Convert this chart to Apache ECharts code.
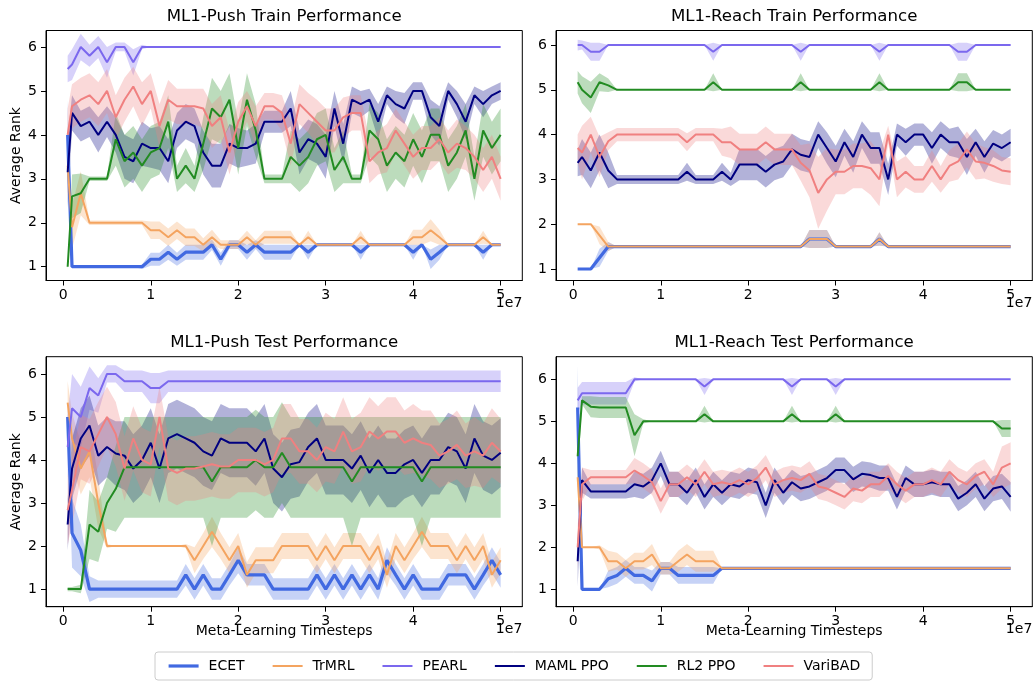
<!DOCTYPE html>
<html><head><meta charset="utf-8">
<script src="https://cdn.jsdelivr.net/npm/echarts@6/dist/echarts.min.js"></script>
<style>html,body{margin:0;padding:0;background:#fff}#c{width:1034px;height:683px}</style>
</head><body><div id="c"></div>
<script>
// ---------------- DATA ----------------
// meta-learning timesteps, in units of 1e7
const steps = [0.05,0.1,0.2,0.3,0.4,0.5,0.6,0.7,0.8,0.9, 1.0,1.1,1.2,1.3,1.4,1.5,1.6,1.7,1.8,1.9, 2.0,2.1,2.2,2.3,2.4,2.5,2.6,2.7,2.8,2.9, 3.0,3.1,3.2,3.3,3.4,3.5,3.6,3.7,3.8,3.9, 4.0,4.1,4.2,4.3,4.4,4.5,4.6,4.7,4.8,4.9, 5.0];
const xTicks = [0,1,2,3,4,5];
const yTicks = [1,2,3,4,5,6];
const methods = ['ECET','TrMRL','PEARL','MAML PPO','RL2 PPO','VariBAD'];
const panelTitles = ['ML1-Push Train Performance','ML1-Reach Train Performance','ML1-Push Test Performance','ML1-Reach Test Performance'];

// ML1-Push Train
const pushTrainEcet = [4.0,1,1,1,1,1,1,1,1,1, 1.17,1.17,1.33,1.17,1.33,1.33,1.33,1.5,1.17,1.5, 1.5,1.33,1.5,1.33,1.33,1.33,1.33,1.5,1.33,1.5, 1.5,1.5,1.5,1.5,1.33,1.5,1.5,1.5,1.5,1.5, 1.33,1.5,1.17,1.33,1.5,1.5,1.5,1.5,1.33,1.5, 1.5];
const pushTrainEcetSd = [0.8,0,0,0,0,0,0,0,0,0.05, 0.15,0.15,0.17,0.15,0.17,0.17,0.17,0.12,0.15,0.1, 0.1,0.17,0.1,0.17,0.17,0.17,0.17,0,0.17,0, 0,0,0,0,0.17,0,0,0,0,0, 0.17,0,0.22,0.17,0,0,0,0,0.17,0, 0];
const pushTrainTrmrl = [3.3,1.9,2.67,2,2,2,2,2,2,2, 1.83,1.83,1.67,1.83,1.67,1.67,1.5,1.67,1.5,1.5, 1.5,1.67,1.5,1.67,1.67,1.67,1.67,1.5,1.67,1.5, 1.5,1.5,1.5,1.5,1.67,1.5,1.5,1.5,1.5,1.5, 1.67,1.67,1.83,1.67,1.5,1.5,1.5,1.5,1.67,1.5, 1.5];
const pushTrainTrmrlSd = [0.6,0.5,0.5,0.05,0.05,0.05,0.05,0.05,0.05,0.05, 0.2,0.2,0.2,0.2,0.2,0.2,0.15,0.17,0.1,0.1, 0.1,0.15,0.1,0.15,0.15,0.15,0.15,0,0.15,0, 0,0,0,0,0.15,0,0,0,0,0, 0.17,0.17,0.25,0.17,0,0,0,0,0.15,0, 0];
const pushTrainPearl = [5.5,5.6,6,5.8,6,5.65,6,6,5.65,6, 6,6,6,6,6,6,6,6,6,6, 6,6,6,6,6,6,6,6,6,6, 6,6,6,6,6,6,6,6,6,6, 6,6,6,6,6,6,6,6,6,6, 6];
const pushTrainPearlSd = [0.3,0.35,0.3,0.25,0.25,0.35,0.1,0.1,0.3,0.05, 0,0,0,0,0,0,0,0,0,0, 0,0,0,0,0,0,0,0,0,0, 0,0,0,0,0,0,0,0,0,0, 0,0,0,0,0,0,0,0,0,0, 0];
const pushTrainMaml = [3.15,4.5,4.2,4.3,4.0,4.3,4.0,3.5,3.4,3.8, 3.7,3.7,3.4,4.1,4.3,4.2,3.6,3.3,3.3,3.8, 3.7,3.7,3.8,4.3,4.3,4.3,4.6,3.6,3.9,3.8, 3.5,4.6,3.8,4.8,4.7,4.8,4.3,4.9,4.7,4.6, 5.0,5.0,4.4,4.2,5.0,4.7,4.3,4.9,4.7,4.9, 5.0];
const pushTrainMamlSd = [0.8,0.4,0.35,0.35,0.4,0.35,0.4,0.5,0.5,0.5, 0.45,0.5,0.5,0.4,0.4,0.4,0.5,0.5,0.5,0.45, 0.45,0.4,0.45,0.25,0.25,0.25,0.4,0.5,0.45,0.45, 0.5,0.4,0.45,0.3,0.3,0.25,0.4,0.2,0.3,0.35, 0.2,0.2,0.4,0.45,0.2,0.3,0.4,0.2,0.3,0.2, 0.2];
const pushTrainRl2 = [1.0,2.6,2.67,3.0,3.0,3.0,3.9,3.4,3.6,3.3, 3.6,3.7,4.3,3.0,3.3,3.0,3.8,4.6,4.4,4.8, 3.7,4.8,4.1,3.0,3.0,3.0,3.5,3.3,3.5,3.9, 4.0,3.2,3.5,3.0,3.0,4.1,3.9,3.3,3.6,3.4, 3.9,3.5,4.0,4.0,3.3,3.6,4.1,3.0,4.1,3.7, 4.0];
const pushTrainRl2Sd = [0.05,0.5,0.45,0.05,0.05,0.05,0.6,0.6,0.6,0.6, 0.6,0.6,0.6,0.3,0.4,0.3,0.6,0.7,0.6,0.6, 0.6,0.6,0.6,0.1,0.1,0.1,0.6,0.6,0.6,0.6, 0.6,0.5,0.6,0.1,0.1,0.6,0.6,0.6,0.6,0.6, 0.6,0.6,0.6,0.6,0.6,0.6,0.6,0.5,0.6,0.6, 0.6];
const pushTrainVaribad = [4.0,4.65,4.8,4.9,4.7,5.0,4.4,4.8,5.1,4.7, 5.0,4.2,4.8,4.65,4.65,4.65,4.6,4.2,4.4,3.6, 4.3,4.65,4.2,4.65,4.65,4.5,3.8,4.7,4.5,4.3, 4.1,4.1,4.4,4.5,4.5,3.4,3.6,3.7,4.1,3.8, 3.5,3.7,3.7,3.9,3.6,3.8,3.7,3.5,3.2,3.5, 3.0];
const pushTrainVaribadSd = [0.6,0.5,0.5,0.5,0.5,0.5,0.5,0.5,0.45,0.5, 0.4,0.5,0.45,0.4,0.4,0.4,0.45,0.5,0.5,0.5, 0.45,0.35,0.45,0.3,0.3,0.4,0.5,0.45,0.45,0.5, 0.5,0.5,0.45,0.4,0.4,0.5,0.5,0.55,0.5,0.5, 0.5,0.5,0.5,0.5,0.5,0.55,0.5,0.5,0.5,0.5, 0.5];

// ML1-Reach Train
const reachTrainEcet = [1,1,1,1.25,1.5,1.5,1.5,1.5,1.5,1.5, 1.5,1.5,1.5,1.5,1.5,1.5,1.5,1.5,1.5,1.5, 1.5,1.5,1.5,1.5,1.5,1.5,1.5,1.67,1.67,1.67, 1.5,1.5,1.5,1.5,1.5,1.67,1.5,1.5,1.5,1.5, 1.5,1.5,1.5,1.5,1.5,1.5,1.5,1.5,1.5,1.5, 1.5];
const reachTrainEcetSd = [0,0,0,0.2,0.1,0,0,0,0,0, 0,0,0,0,0,0,0,0,0,0, 0,0,0,0,0,0,0,0.2,0.2,0.2, 0,0,0,0,0,0.15,0,0,0,0, 0,0,0,0,0,0,0,0,0,0, 0];
const reachTrainTrmrl = [2,2,2,1.75,1.5,1.5,1.5,1.5,1.5,1.5, 1.5,1.5,1.5,1.5,1.5,1.5,1.5,1.5,1.5,1.5, 1.5,1.5,1.5,1.5,1.5,1.5,1.5,1.67,1.67,1.67, 1.5,1.5,1.5,1.5,1.5,1.67,1.5,1.5,1.5,1.5, 1.5,1.5,1.5,1.5,1.5,1.5,1.5,1.5,1.5,1.5, 1.5];
const reachTrainTrmrlSd = [0,0,0,0.2,0.1,0,0,0,0,0, 0,0,0,0,0,0,0,0,0,0, 0,0,0,0,0,0,0,0.2,0.2,0.2, 0,0,0,0,0,0.15,0,0,0,0, 0,0,0,0,0,0,0,0,0,0, 0];
const reachTrainPearl = [6,6,5.85,5.85,6,6,6,6,6,6, 6,6,6,6,6,6,5.85,6,6,6, 6,6,6,6,6,6,5.85,6,6,6, 6,6,6,6,6,5.85,6,6,6,6, 6,6,6,6,5.85,5.85,6,6,6,6, 6];
const reachTrainPearlSd = [0.12,0.1,0.2,0.2,0,0,0,0,0,0, 0,0,0,0,0,0,0.2,0,0,0, 0,0,0,0,0,0,0.2,0,0,0, 0,0,0,0,0,0.2,0,0,0,0, 0,0,0,0,0.2,0.2,0,0,0,0, 0];
const reachTrainMaml = [3.37,3.5,3.2,3.6,3.2,3.0,3.0,3.0,3.0,3.0, 3.0,3.0,3.0,3.17,3.0,3.0,3.0,3.17,3.0,3.33, 3.33,3.33,3.17,3.33,3.4,3.67,3.55,3.5,4.0,3.7, 3.4,3.83,3.5,4.0,3.7,3.7,3.0,4.0,3.83,4.0, 4.0,3.7,4.0,3.83,3.83,3.5,3.83,3.5,3.8,3.7, 3.83];
const reachTrainMamlSd = [0.3,0.4,0.4,0.4,0.4,0.1,0.1,0.1,0.1,0.1, 0.1,0.1,0.1,0.2,0.1,0.1,0.1,0.2,0.15,0.35, 0.35,0.35,0.35,0.35,0.35,0.35,0.35,0.35,0.3,0.35, 0.35,0.3,0.35,0.3,0.35,0.35,0.35,0.25,0.3,0.25, 0.25,0.35,0.3,0.3,0.35,0.4,0.3,0.35,0.3,0.3, 0.3];
const reachTrainRl2 = [5.17,5.0,4.83,5.17,5.1,5,5,5,5,5, 5,5,5,5,5,5,5.17,5,5,5, 5,5,5,5,5,5,5.17,5,5,5, 5,5,5,5,5,5.17,5,5,5,5, 5,5,5,5,5.17,5.17,5,5,5,5, 5];
const reachTrainRl2Sd = [0.25,0.3,0.35,0.2,0.15,0,0,0,0,0, 0,0,0,0,0,0,0.2,0,0,0, 0,0,0,0,0,0,0.2,0,0,0, 0,0,0,0,0,0.2,0,0,0,0, 0,0,0,0,0.2,0.2,0,0,0,0, 0];
const reachTrainVaribad = [3.7,3.6,4.0,3.5,3.85,4.0,4.0,4.0,4.0,4.0, 4.0,4.0,4.0,3.83,4.0,4.0,4.0,3.83,3.83,3.67, 3.67,3.67,3.83,3.67,3.67,3.67,3.37,3.2,2.7,3.0, 3.17,3.17,3.3,3.3,3.25,3.0,4.0,3.0,3.17,3.0, 3.0,3.3,3.0,3.3,3.4,3.67,3.4,3.37,3.3,3.2, 3.17];
const reachTrainVaribadSd = [0.3,0.6,0.4,0.45,0.2,0.15,0.15,0.15,0.15,0.15, 0.15,0.15,0.15,0.2,0.15,0.15,0.15,0.3,0.35,0.35, 0.35,0.35,0.35,0.35,0.35,0.35,0.4,0.6,0.8,0.7, 0.5,0.5,0.5,0.5,0.6,0.6,0.2,0.4,0.35,0.3, 0.3,0.35,0.3,0.35,0.4,0.4,0.4,0.35,0.35,0.3, 0.3];

// ML1-Push Test
const pushTestEcet = [5.0,2.3,1.9,1,1,1,1,1,1,1, 1,1,1,1,1.33,1,1.33,1,1,1.33, 1.67,1.33,1.33,1.33,1,1,1,1,1,1.33, 1,1.33,1,1.33,1,1.33,1,1.67,1.33,1, 1.33,1,1,1,1.33,1.33,1.33,1,1.33,1.67, 1.33];
const pushTestEcetSd = [0.3,0.8,0.6,0.3,0.2,0.2,0.2,0.2,0.2,0.2, 0.2,0.2,0.2,0.2,0.25,0.25,0.25,0.25,0.25,0.25, 0.3,0.25,0.25,0.25,0.25,0.25,0.25,0.25,0.25,0.25, 0.25,0.25,0.25,0.25,0.25,0.25,0.25,0.3,0.25,0.25, 0.25,0.25,0.25,0.25,0.25,0.25,0.25,0.25,0.25,0.3, 0.3];
const pushTestTrmrl = [5.33,4.5,3.8,4.2,3.0,2,2,2,2,2, 2,2,2,2,2,1.67,2,2.33,2,1.67, 2,1.33,1.67,1.67,1.67,2,2,2,2,1.67, 2,1.67,2,2,2,1.67,2,1.33,2,1.67, 2,2.33,2,2,2,1.67,2,1.67,2,1.33, 1.67];
const pushTestTrmrlSd = [0.5,0.6,0.6,0.6,0.6,0.05,0,0,0,0, 0,0,0,0,0.05,0.3,0.3,0.35,0.3,0.3, 0.3,0.3,0.3,0.3,0.3,0.3,0.3,0.3,0.3,0.3, 0.3,0.3,0.3,0.3,0.3,0.3,0.3,0.3,0.3,0.3, 0.3,0.35,0.3,0.3,0.3,0.3,0.3,0.3,0.3,0.3, 0.3];
const pushTestPearl = [4.3,5.2,5.0,5.67,5.5,6.0,6.0,5.83,5.83,5.83, 5.67,5.67,5.83,5.83,5.83,5.83,5.83,5.83,5.83,5.83, 5.83,5.83,5.83,5.83,5.83,5.83,5.83,5.83,5.83,5.83, 5.83,5.83,5.83,5.83,5.83,5.83,5.83,5.83,5.83,5.83, 5.83,5.83,5.83,5.83,5.83,5.83,5.83,5.83,5.83,5.83, 5.83];
const pushTestPearlSd = [0.7,0.8,0.7,0.5,0.4,0.2,0.2,0.25,0.25,0.25, 0.35,0.35,0.25,0.25,0.25,0.25,0.25,0.25,0.25,0.25, 0.25,0.25,0.25,0.25,0.25,0.25,0.25,0.25,0.25,0.25, 0.25,0.25,0.25,0.25,0.25,0.25,0.25,0.25,0.25,0.25, 0.25,0.25,0.25,0.25,0.25,0.25,0.25,0.25,0.25,0.25, 0.25];
const pushTestMaml = [2.5,3.8,4.5,4.8,4.1,4.3,4.15,4.1,3.8,4.0, 4.4,3.8,4.5,4.6,4.5,4.4,4.2,4.1,4.5,4.4, 4.4,4.4,4.2,4.5,3.8,3.6,3.9,3.95,4.3,4.5, 4.0,4.0,4.0,3.8,4.1,3.7,4.0,3.7,3.7,3.9, 4.0,3.7,4.0,4.0,4.3,4.2,3.8,4.5,4.1,4.0, 4.17];
const pushTestMamlSd = [0.6,0.7,0.7,0.7,0.7,0.7,0.75,0.8,0.8,0.8, 0.8,0.8,0.8,0.8,0.8,0.8,0.8,0.8,0.8,0.8, 0.8,0.8,0.8,0.8,0.8,0.8,0.8,0.8,0.8,0.8, 0.8,0.8,0.8,0.8,0.8,0.8,0.8,0.8,0.8,0.8, 0.8,0.8,0.8,0.8,0.8,0.8,0.8,0.8,0.8,0.8, 0.8];
const pushTestRl2 = [1,1,1,2.5,2.33,3.0,3.33,3.83,3.83,3.83, 3.83,3.83,3.83,3.83,3.83,3.83,3.83,3.5,3.83,3.83, 3.83,3.83,4.0,3.83,3.83,4.17,3.83,3.83,3.83,3.83, 3.83,3.83,3.83,3.5,3.83,3.83,3.83,3.83,3.83,3.83, 3.83,3.5,3.83,3.83,3.83,3.83,3.83,3.83,3.83,3.83, 3.83];
const pushTestRl2Sd = [0.05,0.05,0.1,0.8,0.7,0.6,1.0,1.17,1.17,1.17, 1.17,1.17,1.17,1.17,1.17,1.17,1.17,1.5,1.17,1.17, 1.17,1.17,1.17,1.17,1.17,1.17,1.17,1.17,1.17,1.17, 1.17,1.17,1.17,1.5,1.17,1.17,1.17,1.17,1.17,1.17, 1.17,1.5,1.17,1.17,1.17,1.17,1.17,1.17,1.17,1.17, 1.17];
const pushTestVaribad = [2.83,3.3,4.3,4.2,4.6,5.0,4.6,3.8,4.5,4.0, 3.9,5.0,3.8,3.7,3.8,3.8,3.85,3.9,3.85,3.85, 4.0,4.0,4.0,3.9,4.0,4.5,4.5,4.2,4.2,4.0, 4.3,4.2,4.66,4.2,4.3,4.66,4.5,4.66,4.66,4.4, 4.5,4.4,4.35,4.1,4.2,4.35,4.1,4.2,4.1,4.4, 4.2];
const pushTestVaribadSd = [0.8,0.8,0.75,0.75,0.75,0.7,0.75,0.75,0.75,0.75, 0.75,0.7,0.75,0.75,0.75,0.75,0.75,0.75,0.75,0.75, 0.75,0.75,0.75,0.75,0.75,0.8,0.8,0.75,0.75,0.75, 0.8,0.75,0.8,0.75,0.8,0.8,0.75,0.8,0.8,0.75, 0.8,0.75,0.8,0.75,0.75,0.8,0.75,0.8,0.75,0.8, 0.75];

// ML1-Reach Test
const reachTestEcet = [5.33,1,1,1,1.25,1.33,1.5,1.33,1.33,1.2, 1.5,1.5,1.33,1.33,1.33,1.33,1.33,1.5,1.5,1.5, 1.5,1.5,1.5,1.5,1.5,1.5,1.5,1.5,1.5,1.5, 1.5,1.5,1.5,1.5,1.5,1.5,1.5,1.5,1.5,1.5, 1.5,1.5,1.5,1.5,1.5,1.5,1.5,1.5,1.5,1.5, 1.5];
const reachTestEcetSd = [1.0,0,0,0,0.2,0.2,0.2,0.2,0.2,0.25, 0.15,0.15,0.2,0.2,0.2,0.2,0.2,0,0,0, 0,0,0,0,0,0,0,0,0,0, 0,0,0,0,0,0,0,0,0,0, 0,0,0,0,0,0,0,0,0,0, 0];
const reachTestTrmrl = [3.67,2,2,2,1.67,1.67,1.5,1.67,1.67,1.83, 1.5,1.5,1.67,1.83,1.67,1.67,1.67,1.5,1.5,1.5, 1.5,1.5,1.5,1.5,1.5,1.5,1.5,1.5,1.5,1.5, 1.5,1.5,1.5,1.5,1.5,1.5,1.5,1.5,1.5,1.5, 1.5,1.5,1.5,1.5,1.5,1.5,1.5,1.5,1.5,1.5, 1.5];
const reachTestTrmrlSd = [0.3,0,0,0.05,0.25,0.2,0.2,0.2,0.2,0.25, 0.15,0.15,0.25,0.25,0.25,0.25,0.25,0,0,0, 0,0,0,0,0,0,0,0,0,0, 0,0,0,0,0,0,0,0,0,0, 0,0,0,0,0,0,0,0,0,0, 0];
const reachTestPearl = [5.5,5.67,5.67,5.67,5.67,5.67,5.67,6,6,6, 6,6,6,6,6,5.83,6,6,6,6, 6,6,6,6,6,5.83,6,6,6,6, 5.83,6,6,6,6,6,6,6,6,6, 6,6,6,6,6,6,6,6,6,6, 6];
const reachTestPearlSd = [0.3,0.27,0.27,0.27,0.27,0.27,0.27,0.05,0,0, 0,0,0,0,0,0.2,0,0,0,0, 0,0,0,0,0,0.2,0,0,0,0, 0.2,0,0,0,0,0,0,0,0,0, 0,0,0,0,0,0,0,0,0,0, 0];
const reachTestMaml = [1.67,3.6,3.33,3.33,3.33,3.33,3.33,3.5,3.45,3.6, 4.0,3.5,3.5,3.3,3.6,3.2,3.5,3.3,3.5,3.45, 3.6,3.55,3.0,3.6,3.3,3.55,3.4,3.45,3.55,3.65, 3.84,3.84,3.62,3.75,3.72,3.65,3.65,3.2,3.65,3.5, 3.5,3.55,3.5,3.5,3.16,3.3,3.5,3.16,3.4,3.45, 3.2];
const reachTestMamlSd = [0.6,0.3,0.17,0.17,0.17,0.17,0.17,0.3,0.3,0.3, 0.3,0.3,0.3,0.3,0.3,0.3,0.3,0.3,0.3,0.3, 0.3,0.3,0.3,0.3,0.3,0.3,0.3,0.3,0.3,0.3, 0.3,0.3,0.3,0.3,0.3,0.3,0.3,0.3,0.3,0.3, 0.3,0.3,0.3,0.3,0.3,0.3,0.3,0.3,0.3,0.3, 0.35];
const reachTestRl2 = [4.17,5.5,5.35,5.33,5.33,5.33,5.33,4.67,5,5, 5,5,5,5,5,5.17,5,5,5,5, 5,5,5,5,5,5.17,5,5,5,5, 5.17,5,5,5,5,5,5,5,5,5, 5,5,5,5,5,5,5,5,5,4.83, 4.83];
const reachTestRl2Sd = [0.6,0.1,0.25,0.25,0.25,0.25,0.25,0.5,0.05,0, 0,0,0,0,0,0.2,0,0,0,0, 0,0,0,0,0,0.2,0,0,0,0, 0.2,0,0,0,0,0,0,0,0,0, 0,0,0,0,0,0,0,0,0,0.2, 0.2];
const reachTestVaribad = [2.0,3.5,3.67,3.67,3.67,3.67,3.67,3.83,3.7,3.55, 3.1,3.5,3.5,3.67,3.5,3.8,3.5,3.55,3.5,3.6, 3.5,3.65,3.9,3.5,3.6,3.65,3.6,3.75,3.45,3.4, 3.3,3.2,3.4,3.35,3.5,3.5,3.7,3.5,3.35,3.5, 3.5,3.6,3.5,3.8,3.6,3.5,3.7,3.8,3.5,3.9, 4.0];
const reachTestVaribadSd = [0.5,0.4,0.17,0.17,0.17,0.17,0.17,0.3,0.3,0.3, 0.3,0.3,0.3,0.3,0.3,0.3,0.3,0.3,0.3,0.3, 0.3,0.3,0.3,0.3,0.3,0.3,0.3,0.3,0.3,0.3, 0.3,0.3,0.3,0.3,0.3,0.3,0.3,0.3,0.3,0.3, 0.3,0.3,0.3,0.3,0.3,0.3,0.3,0.3,0.3,0.5, 0.5];

// ---------------- STYLE / LAYOUT ----------------
const colors = ['#4169E1','#F4A460','#7B68EE','#000080','#228B22','#F08080'];
const widths = [3.2, 2, 2, 2, 2, 2];
const FONT = 'DejaVu Sans';
const panels = [
  {means:[pushTrainEcet,pushTrainTrmrl,pushTrainPearl,pushTrainMaml,pushTrainRl2,pushTrainVaribad],
   sds:[pushTrainEcetSd,pushTrainTrmrlSd,pushTrainPearlSd,pushTrainMamlSd,pushTrainRl2Sd,pushTrainVaribadSd],
   grid:{left:46, top:30.5, width:476.3, height:250}, ymin:0.686, ymax:6.375},
  {means:[reachTrainEcet,reachTrainTrmrl,reachTrainPearl,reachTrainMaml,reachTrainRl2,reachTrainVaribad],
   sds:[reachTrainEcetSd,reachTrainTrmrlSd,reachTrainPearlSd,reachTrainMamlSd,reachTrainRl2Sd,reachTrainVaribadSd],
   grid:{left:556, top:30.5, width:476.3, height:250}, ymin:0.743, ymax:6.324},
  {means:[pushTestEcet,pushTestTrmrl,pushTestPearl,pushTestMaml,pushTestRl2,pushTestVaribad],
   sds:[pushTestEcetSd,pushTestTrmrlSd,pushTestPearlSd,pushTestMamlSd,pushTestRl2Sd,pushTestVaribadSd],
   grid:{left:46, top:356.7, width:476.3, height:250}, ymin:0.59, ymax:6.40},
  {means:[reachTestEcet,reachTestTrmrl,reachTestPearl,reachTestMaml,reachTestRl2,reachTestVaribad],
   sds:[reachTestEcetSd,reachTestTrmrlSd,reachTestPearlSd,reachTestMamlSd,reachTestRl2Sd,reachTestVaribadSd],
   grid:{left:556, top:356.7, width:476.3, height:250}, ymin:0.586, ymax:6.54}
];

const grids = [], xAxes = [], yAxes = [], series = [], graphics = [];
panels.forEach((p, pi) => {
  grids.push(Object.assign({show:true, borderColor:'#000', borderWidth:1, backgroundColor:'transparent'}, p.grid));
  xAxes.push({
    gridIndex:pi, type:'value', min:-0.1975, max:5.2475,
    splitLine:{show:false},
    axisLine:{show:true, onZero:false, lineStyle:{color:'#000', width:1}},
    axisTick:{show:true, length:5, customValues:xTicks, lineStyle:{color:'#000'}},
    axisLabel:{customValues:xTicks, color:'#000', fontSize:14, fontFamily:FONT, margin:8}
  });
  yAxes.push({
    gridIndex:pi, type:'value', min:p.ymin, max:p.ymax,
    splitLine:{show:false},
    axisLine:{show:true, onZero:false, lineStyle:{color:'#000', width:1}},
    axisTick:{show:true, length:5, customValues:yTicks, lineStyle:{color:'#000'}},
    axisLabel:{customValues:yTicks, color:'#000', fontSize:14, fontFamily:FONT, margin:9}
  });
  methods.forEach((m, mi) => {
    const mean = p.means[mi], sd = p.sds[mi];
    // shaded band (mean ± sd) drawn as one polygon through the axis scales
    series.push({
      name: m + ' band', type:'custom', xAxisIndex:pi, yAxisIndex:pi,
      data: steps.map((x, i) => [x, mean[i] - sd[i], mean[i] + sd[i]]),
      encode:{x:0, y:[1, 2]},
      silent:true, animation:false, clip:true,
      renderItem: (params, api) => {
        if (params.dataIndex !== 0) return;
        const pts = [];
        for (let i = 0; i < steps.length; i++) pts.push(api.coord([steps[i], mean[i] + sd[i]]));
        for (let i = steps.length - 1; i >= 0; i--) pts.push(api.coord([steps[i], mean[i] - sd[i]]));
        return {type:'polygon', shape:{points:pts}, style:{fill:colors[mi], opacity:0.3}};
      }
    });
    series.push({
      name: m, type:'line', xAxisIndex:pi, yAxisIndex:pi,
      data: steps.map((x, i) => [x, mean[i]]),
      symbol:'none', silent:true, lineStyle:{color:colors[mi], width:widths[mi]},
      itemStyle:{color:colors[mi]}, animation:false
    });
  });
  const g = p.grid;
  const cx = g.left + g.width / 2;
  graphics.push({type:'text', x:cx, y:g.top - 13.7, style:{text:panelTitles[pi], font:'16.6px "' + FONT + '"', fill:'#000', align:'center', verticalAlign:'middle', textAlign:'center', textVerticalAlign:'middle'}});
  graphics.push({type:'text', x:g.left + g.width, y:g.top + g.height + 22.5, style:{text:'1e7', font:'14px "' + FONT + '"', fill:'#000', align:'right', verticalAlign:'middle', textAlign:'right', textVerticalAlign:'middle'}});
  if (pi % 2 === 0) {
    graphics.push({type:'text', x:16, y:g.top + g.height / 2, rotation:Math.PI / 2, style:{text:'Average Rank', font:'14px "' + FONT + '"', fill:'#000', align:'center', verticalAlign:'middle', textAlign:'center', textVerticalAlign:'middle'}});
  }
  if (pi >= 2) {
    graphics.push({type:'text', x:cx, y:g.top + g.height + 24.5, style:{text:'Meta-Learning Timesteps', font:'14px "' + FONT + '"', fill:'#000', align:'center', verticalAlign:'middle', textAlign:'center', textVerticalAlign:'middle'}});
  }
});

const chart = echarts.init(document.getElementById('c'), null, {renderer:'canvas'});
chart.setOption({
  animation:false,
  backgroundColor:'#fff',
  textStyle:{fontFamily:FONT},
  grid:grids, xAxis:xAxes, yAxis:yAxes, series:series,
  graphic:{elements:graphics},
  legend:{
    data: methods.map((m, mi) => ({name:m, lineStyle:{width:widths[mi], color:colors[mi]}})),
    left:155, top:652, orient:'horizontal',
    itemWidth:30, itemHeight:12, itemGap:27,
    itemStyle:{opacity:0},
    textStyle:{fontFamily:FONT, fontSize:14, color:'#000', padding:[0,0,0,5]},
    borderColor:'#cccccc', borderWidth:1, borderRadius:3, padding:[7,12],
    backgroundColor:'rgba(255,255,255,0.8)'
  }
});
</script></body></html>
